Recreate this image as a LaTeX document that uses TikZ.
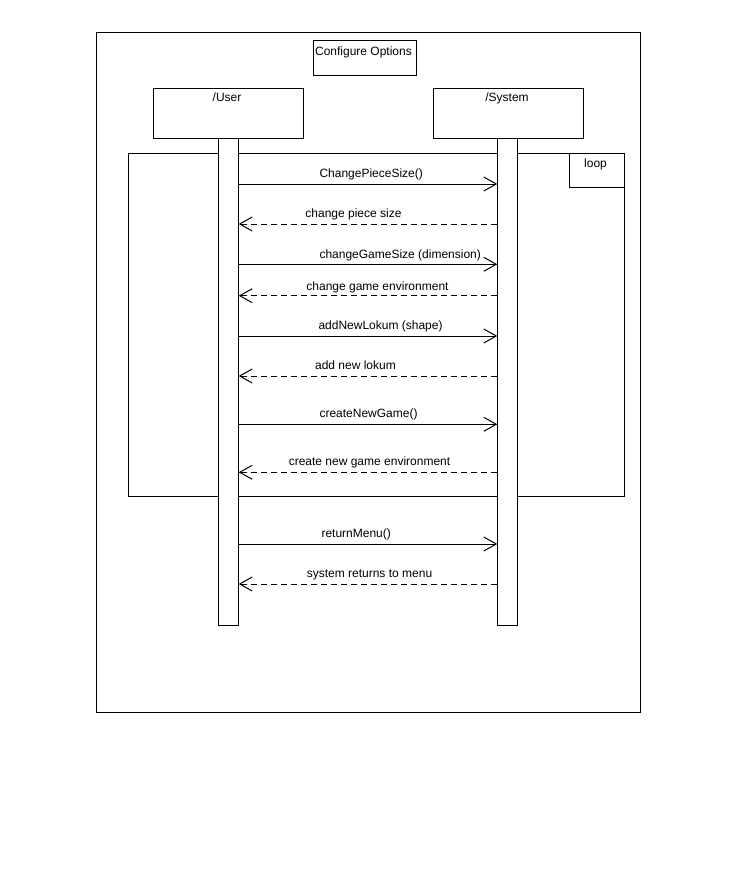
\documentclass[tikz,border=0pt]{standalone}
\usepackage{fontspec}
\setmainfont{Liberation Sans}
\usetikzlibrary{arrows.meta}
\begin{document}
\begin{tikzpicture}[x=1pt,y=-1pt,line width=1pt,
  box/.style={draw,fill=white,rectangle,inner sep=0pt,anchor=north west},
  lbl/.style={font=\fontsize{12}{14}\selectfont,inner sep=0pt},
  call/.style={-{Straight Barb[length=12.5pt,width=14pt,line width=1pt]}},
  reply/.style={call,dash pattern=on 6pt off 4pt}]
\useasboundingbox (0,0) rectangle (736,872);
\fill[white] (0,0) rectangle (736,872);

% diagram frame and title
\node[box,minimum width=544pt,minimum height=680pt] (frame) at (96,32) {};
\node[box,minimum width=103pt,minimum height=35pt] (title) at (312.5,40) {};
\node[lbl,anchor=base] (titletext) at (363.5,55.5) {Configure Options};

% participants
\node[box,minimum width=150pt,minimum height=50pt] (user) at (152.5,88) {};
\node[lbl,anchor=base] (usertext) at (227,102) {/User};
\node[box,minimum width=150pt,minimum height=50pt] (system) at (432.5,88) {};
\node[lbl,anchor=base] (systemtext) at (507,102) {/System};

% loop fragment
\node[box,minimum width=496pt,minimum height=343pt] (loop) at (128.3,152.7) {};
\node[box,minimum width=55.5pt,minimum height=34.3pt,anchor=north east] (loopbox) at (loop.north east) {};
\node[lbl,anchor=base] (looptext) at (595.5,167) {loop};

% activation bars
\node[box,minimum width=20pt,minimum height=487pt] (ubar) at (217.7,138.3) {};
\node[box,minimum width=20pt,minimum height=487pt] (sbar) at (497.3,138.3) {};

% message rows
\coordinate (m1) at (0,184);
\coordinate (m2) at (0,224);
\coordinate (m3) at (0,264.3);
\coordinate (m4) at (0,295.7);
\coordinate (m5) at (0,336);
\coordinate (m6) at (0,376);
\coordinate (m7) at (0,424.3);
\coordinate (m8) at (0,472.3);
\coordinate (m9) at (0,544);
\coordinate (m10) at (0,584);

\draw[call]  (ubar.east |- m1) -- (sbar.west |- m1);
\draw[reply] (sbar.west |- m2) -- (ubar.east |- m2);
\draw[call]  (ubar.east |- m3) -- (sbar.west |- m3);
\draw[reply] (sbar.west |- m4) -- (ubar.east |- m4);
\draw[call]  (ubar.east |- m5) -- (sbar.west |- m5);
\draw[reply] (sbar.west |- m6) -- (ubar.east |- m6);
\draw[call]  (ubar.east |- m7) -- (sbar.west |- m7);
\draw[reply] (sbar.west |- m8) -- (ubar.east |- m8);
\draw[call]  (ubar.east |- m9) -- (sbar.west |- m9);
\draw[reply] (sbar.west |- m10) -- (ubar.east |- m10);

% message labels
\node[lbl,anchor=base west] (l1) at (319,177.5) {ChangePieceSize()};
\node[lbl,anchor=base] (l2) at (353.5,217.5) {change piece size};
\node[lbl,anchor=base west] (l3) at (319,258) {changeGameSize (dimension)};
\node[lbl,anchor=base] (l4) at (377.5,290) {change game environment};
\node[lbl,anchor=base west] (l5) at (318,329.5) {addNewLokum (shape)};
\node[lbl,anchor=base] (l6) at (355.5,369.5) {add new lokum};
\node[lbl,anchor=base west] (l7) at (319,417.5) {createNewGame()};
\node[lbl,anchor=base] (l8) at (369.5,465.5) {create new game environment};
\node[lbl,anchor=base west] (l9) at (321,537.5) {returnMenu()};
\node[lbl,anchor=base] (l10) at (369.5,577.5) {system returns to menu};
\end{tikzpicture}
\end{document}
